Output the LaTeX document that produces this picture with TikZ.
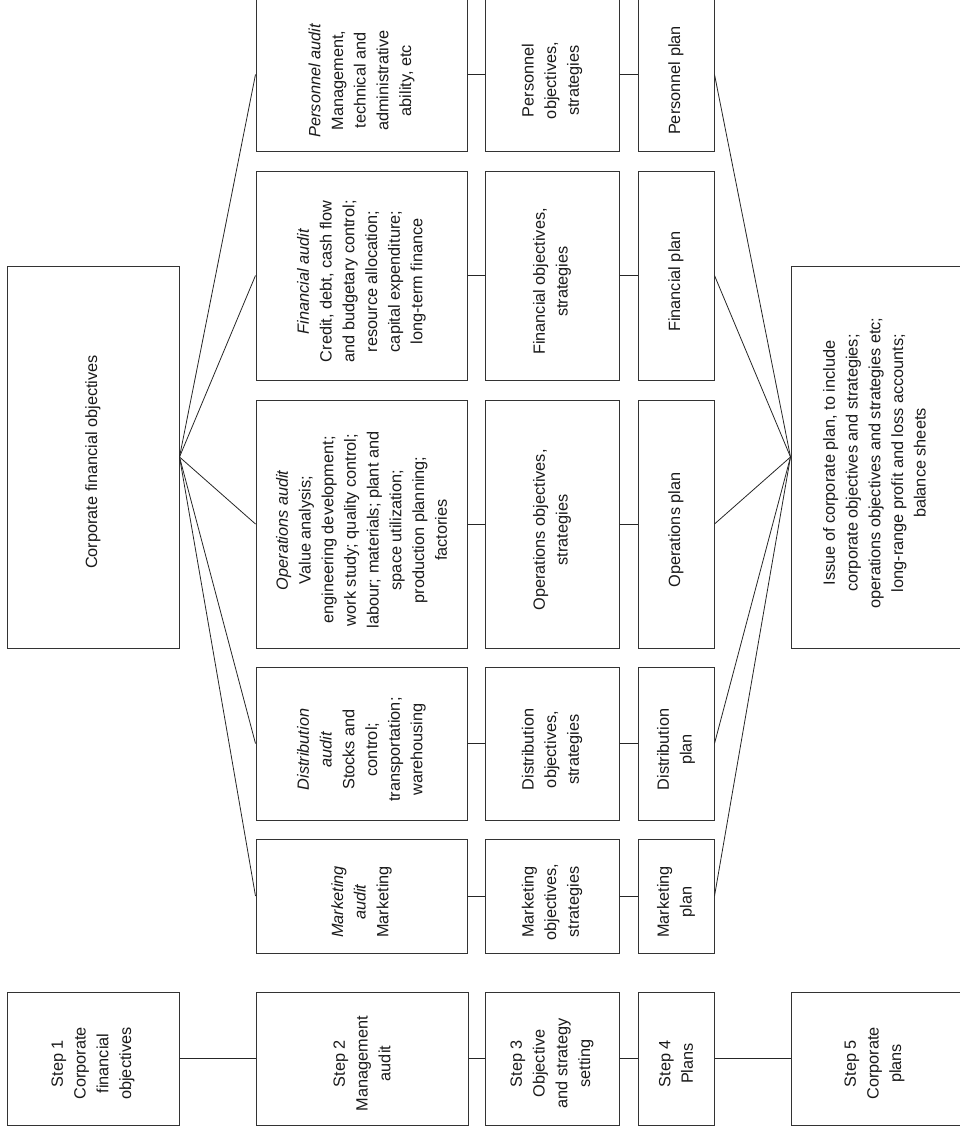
\documentclass[tikz,border=0pt]{standalone}
\usepackage{fontspec}
\setmainfont{Liberation Sans}
\usetikzlibrary{fit}
\begin{document}
\begin{tikzpicture}[x=1pt,y=-1pt,
  box/.style={draw=black!80, line width=1pt, inner sep=0pt},
  txt/.style={rotate=90, align=center, inner sep=0pt, text=black!90,
    font=\fontsize{16.3}{22.7}\selectfont},
  link/.style={draw=black!85, line width=0.8pt}]
\useasboundingbox (0,0) rectangle (959,1132);

% ---- boxes: column 1
\node[box, fit={(7,266) (179,648)}] (cfo) {};
\node[box, fit={(7,992) (179,1125)}] (s1) {};
% ---- column 2: audits
\node[box, fit={(256,-2) (467,151)}] (pa) {};
\node[box, fit={(256,171) (467,380)}] (fa) {};
\node[box, fit={(256,400) (467,648)}] (oa) {};
\node[box, fit={(256,667) (467,820)}] (da) {};
\node[box, fit={(256,839) (467,953)}] (ma) {};
\node[box, fit={(256,992) (468,1125)}] (s2) {};
% ---- column 3: objectives
\node[box, fit={(485,-2) (619,151)}] (po) {};
\node[box, fit={(485,171) (619,380)}] (fo) {};
\node[box, fit={(485,400) (619,648)}] (oo) {};
\node[box, fit={(485,667) (619,820)}] (do) {};
\node[box, fit={(485,839) (619,953)}] (mo) {};
\node[box, fit={(485,992) (619,1125)}] (s3) {};
% ---- column 4: plans
\node[box, fit={(638,-2) (714,151)}] (pp) {};
\node[box, fit={(638,171) (714,380)}] (fp) {};
\node[box, fit={(638,400) (714,648)}] (op) {};
\node[box, fit={(638,667) (714,820)}] (dp) {};
\node[box, fit={(638,839) (714,953)}] (mp) {};
\node[box, fit={(638,992) (714,1125)}] (s4) {};
% ---- column 5
\node[box, fit={(791,266) (966,648)}] (iss) {};
\node[box, fit={(791,992) (966,1125)}] (s5) {};

% ---- texts
\node[txt] (cfo-t) at ([yshift=-5pt]cfo.center) {Corporate financial objectives};
\node[txt] (s1-t) at ([yshift=-5pt]s1.center) {Step 1\\Corporate\\financial\\objectives};
\node[txt] (pa-t) at ([yshift=-6pt]pa.center) {\textit{Personnel audit}\\Management,\\technical and\\administrative\\ability, etc};
\node[txt] (fa-t) at ([yshift=-6pt]fa.center) {\textit{Financial audit}\\Credit, debt, cash flow\\and budgetary control;\\resource allocation;\\capital expenditure;\\long-term finance};
\node[txt] (oa-t) at ([yshift=-6pt]oa.center) {\textit{Operations audit}\\Value analysis;\\engineering development;\\work study; quality control;\\labour; materials; plant and\\space utilization;\\production planning;\\factories};
\node[txt] (da-t) at ([yshift=-6pt]da.center) {\textit{Distribution}\\\textit{audit}\\Stocks and\\control;\\transportation;\\warehousing};
\node[txt] (ma-t) at ([yshift=-6pt]ma.center) {\textit{Marketing}\\\textit{audit}\\Marketing};
\node[txt] (s2-t) at ([yshift=-5pt]s2.center) {Step 2\\Management\\audit};
\node[txt] (po-t) at ([yshift=-6pt]po.center) {Personnel\\objectives,\\strategies};
\node[txt] (fo-t) at ([yshift=-6pt]fo.center) {Financial objectives,\\strategies};
\node[txt] (oo-t) at ([yshift=-6pt]oo.center) {Operations objectives,\\strategies};
\node[txt] (do-t) at ([yshift=-6pt]do.center) {Distribution\\objectives,\\strategies};
\node[txt] (mo-t) at ([yshift=-6pt]mo.center) {Marketing\\objectives,\\strategies};
\node[txt] (s3-t) at ([yshift=-5pt]s3.center) {Step 3\\Objective\\and strategy\\setting};
\node[txt] (pp-t) at ([yshift=-6pt]pp.center) {Personnel plan};
\node[txt] (fp-t) at ([yshift=-6pt]fp.center) {Financial plan};
\node[txt] (op-t) at ([yshift=-6pt]op.center) {Operations plan};
\node[txt] (dp-t) at ([yshift=-6pt]dp.center) {Distribution\\plan};
\node[txt] (mp-t) at ([yshift=-6pt]mp.center) {Marketing\\plan};
\node[txt] (s4-t) at ([yshift=-5pt]s4.center) {Step 4\\Plans};
\node[txt] (iss-t) at ([xshift=-4pt,yshift=-6pt]iss.center) {Issue of corporate plan, to include\\corporate objectives and strategies;\\operations objectives and strategies etc;\\long-range profit and loss accounts;\\balance sheets};
\node[txt] (s5-t) at ([xshift=-4pt,yshift=-5pt]s5.center) {Step 5\\Corporate\\plans};

% ---- fan from corporate objectives to the audits
\foreach \a in {pa,fa,oa,da,ma} \draw[link] (cfo.east) -- (\a.west);
% ---- audit -> objectives -> plan
\foreach \a/\o/\p in {pa/po/pp,fa/fo/fp,oa/oo/op,da/do/dp,ma/mo/mp}{
  \draw[link] (\a.east) -- (\o.west);
  \draw[link] (\o.east) -- (\p.west);
}
% ---- fan from the plans into the corporate plan
\foreach \p in {pp,fp,op,dp,mp} \draw[link] (\p.east) -- (iss.west);
% ---- step chain
\draw[link] (s1.east) -- (s2.west);
\draw[link] (s2.east) -- (s3.west);
\draw[link] (s3.east) -- (s4.west);
\draw[link] (s4.east) -- (s5.west);
\end{tikzpicture}
\end{document}
